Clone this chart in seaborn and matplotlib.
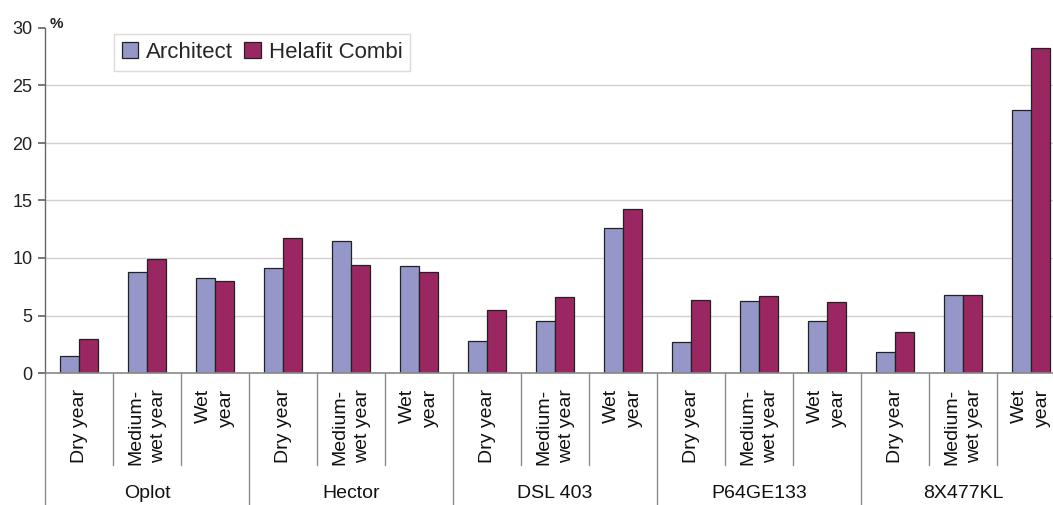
import matplotlib
matplotlib.use("Agg")
import matplotlib.pyplot as plt
import matplotlib.transforms as mtransforms
import seaborn as sns
import pandas as pd

# Yield change per variety and rainfall scenario (%)
groups = ["Oplot", "Hector", "DSL 403", "P64GE133", "8X477KL"]
conditions = ["Dry year", "Medium-\nwet year", "Wet\nyear"]
architect = [1.5, 8.8, 8.3,
             9.1, 11.5, 9.3,
             2.75, 4.55, 12.6,
             2.7, 6.3, 4.5,
             1.85, 6.8, 22.9]
helafit = [3.0, 9.9, 8.0,
           11.7, 9.4, 8.8,
           5.5, 6.6, 14.25,
           6.35, 6.7, 6.2,
           3.6, 6.8, 28.3]
series = ["Architect", "Helafit Combi"]
y_ticks = [0, 5, 10, 15, 20, 25, 30]

sns.set_theme(style="white")
plt.rcParams["font.family"] = ["Liberation Sans", "DejaVu Sans"]

keys = [f"{g}|{c}" for g in groups for c in conditions]
df = pd.DataFrame({
    "key": keys * 2,
    "value": architect + helafit,
    "series": [series[0]] * len(keys) + [series[1]] * len(keys),
})

fig = plt.figure(figsize=(10.53, 5.05), dpi=100)
ax = fig.add_axes([45 / 1053, 132 / 505, 1020 / 1053, 345 / 505])

sns.barplot(data=df, x="key", y="value", hue="series", order=keys,
            hue_order=series, palette=["#9497C8", "#9B2762"],
            width=0.57, gap=0, edgecolor="#222222", linewidth=0.9,
            saturation=1, errorbar=None, ax=ax)

ax.set_xlim(-0.5, len(keys) - 0.5)
ax.set_ylim(0, 30)
ax.set_yticks(y_ticks)
ax.set_yticklabels([str(t) for t in y_ticks], fontsize=13, color="#222222")
ax.set_xlabel("")
ax.set_ylabel("")

# Horizontal gridlines
for t in y_ticks[1:-1]:
    ax.axhline(t, color="#d4d0d0", linewidth=1.0, zorder=0)

for side in ["top", "right"]:
    ax.spines[side].set_visible(False)
ax.spines["left"].set_color("#666666")
ax.spines["bottom"].set_color("#888888")
ax.spines["left"].set_linewidth(1.0)
ax.spines["bottom"].set_linewidth(1.2)
ax.tick_params(axis="y", left=True, length=5, color="#666666", pad=4)
ax.tick_params(axis="x", bottom=False, labelbottom=False)

ax.text(0.005, 1.012, "%", transform=ax.transAxes, fontsize=11,
        fontweight="bold", ha="left", va="center", color="#222222")

# Two-level category axis below the plot
trans = mtransforms.blended_transform_factory(ax.transData, ax.transAxes)
inner_bottom = -92 / 345
outer_bottom = -133 / 345
for i, key in enumerate(keys):
    cond = conditions[i % 3]
    ax.text(i, -16 / 345, cond, transform=trans, rotation=90,
            ha="center", va="top", multialignment="right",
            fontsize=14, color="#111111", linespacing=1.4)
for b in range(len(keys) + 1):
    x = b - 0.5
    y0 = outer_bottom if b % 3 == 0 else inner_bottom
    ax.plot([x, x], [0, y0], transform=trans, color="#8a8a8a",
            linewidth=1.0, clip_on=False)
for gi, g in enumerate(groups):
    ax.text(gi * 3 + 1, -121 / 345, g, transform=trans, ha="center",
            va="center", fontsize=14, color="#111111")

leg = ax.legend(loc="upper left", bbox_to_anchor=(0.0676, 0.9826),
                borderaxespad=0, ncol=2, fontsize=16, frameon=True,
                fancybox=False, handlelength=0.75, handleheight=0.75,
                handletextpad=0.35, columnspacing=0.5, borderpad=0.35,
                title=None)
leg.get_frame().set_edgecolor("#d8d0d0")
leg.get_frame().set_linewidth(1.0)

fig.savefig("out.png", dpi=100)
